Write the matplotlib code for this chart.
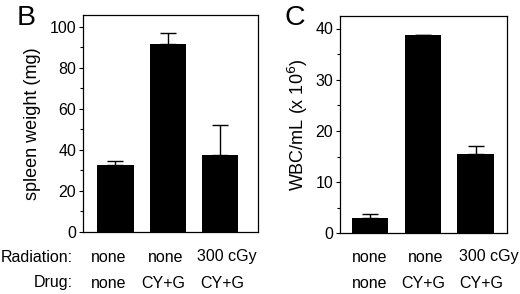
import matplotlib
matplotlib.use("Agg")
import matplotlib.pyplot as plt
import matplotlib.transforms as mtransforms
from matplotlib.ticker import MultipleLocator

plt.rcParams['font.family'] = ['Liberation Sans', 'DejaVu Sans']

radiation = ["none", "none", "300 cGy"]
drug = ["none", "CY+G", "CY+G"]

spleen_mean = [32.4, 91.4, 37.3]
spleen_err = [2.1, 5.4, 14.7]

wbc_mean = [3.0, 38.7, 15.5]
wbc_err = [0.7, 0.1, 1.5]

FS = 11.5
DPI = 100

fig = plt.figure(figsize=(5.2, 2.94), dpi=DPI)

def panel(rect, means, errs, ylim, major, ylabel, letter, letter_x, xlim,
          rad_off, drug_off, lpad):
    ax = fig.add_axes(rect)
    x = list(range(len(means)))
    ax.bar(x, means, width=0.69, color='black', zorder=2)
    ax.errorbar(x, means, yerr=[[0] * len(errs), errs], fmt='none',
                ecolor='black', elinewidth=1.0, capsize=6, capthick=1.0, zorder=1)
    ax.set_ylim(*ylim)
    ax.set_xlim(*xlim)
    ax.yaxis.set_major_locator(MultipleLocator(major))
    ax.yaxis.set_minor_locator(MultipleLocator(major / 2))
    ax.tick_params(axis='y', which='major', direction='out', length=3, width=0.8,
                   labelsize=FS, pad=2)
    ax.tick_params(axis='y', which='minor', direction='out', length=2, width=0.8)
    ax.tick_params(axis='x', which='both', bottom=False, labelbottom=False)
    for s in ax.spines.values():
        s.set_linewidth(0.9)
    ax.set_ylabel(ylabel, fontsize=13, labelpad=lpad)
    trans = mtransforms.blended_transform_factory(ax.transData, fig.transFigure)
    for i in x:
        t1 = mtransforms.offset_copy(trans, fig=fig, x=rad_off[i] * 72 / DPI, units='points')
        t2 = mtransforms.offset_copy(trans, fig=fig, x=drug_off[i] * 72 / DPI, units='points')
        ax.text(i, 1 - 257 / 294, radiation[i], transform=t1, ha='center',
                va='center', fontsize=FS)
        ax.text(i, 1 - 283 / 294, drug[i], transform=t2, ha='center',
                va='center', fontsize=FS)
    fig.text(letter_x, 1 - 25 / 294, letter, fontsize=20.5, ha='left', va='baseline')
    return ax

panel([83 / 520, 62 / 294, 175 / 520, 217 / 294], spleen_mean, spleen_err,
      (0, 105.7), 20, "spleen weight (mg)", "B", 17 / 520,
      (-0.62, 2.72), [-7, -2, 7], [-7, -5, 2], 6)
panel([340 / 520, 60.7 / 294, 166.7 / 520, 217.6 / 294], wbc_mean, wbc_err,
      (0, 42.5), 10, "WBC/mL (x 10$^6$)", "C", 284 / 520,
      (-0.57, 2.59), [0, 3, 13], [0, 0, 6], 4)

fig.text(73 / 520, 1 - 257 / 294, "Radiation:", ha='right', va='center', fontsize=FS)
fig.text(73 / 520, 1 - 283 / 294, "Drug:", ha='right', va='center', fontsize=FS)

fig.savefig("out.png", dpi=DPI)
